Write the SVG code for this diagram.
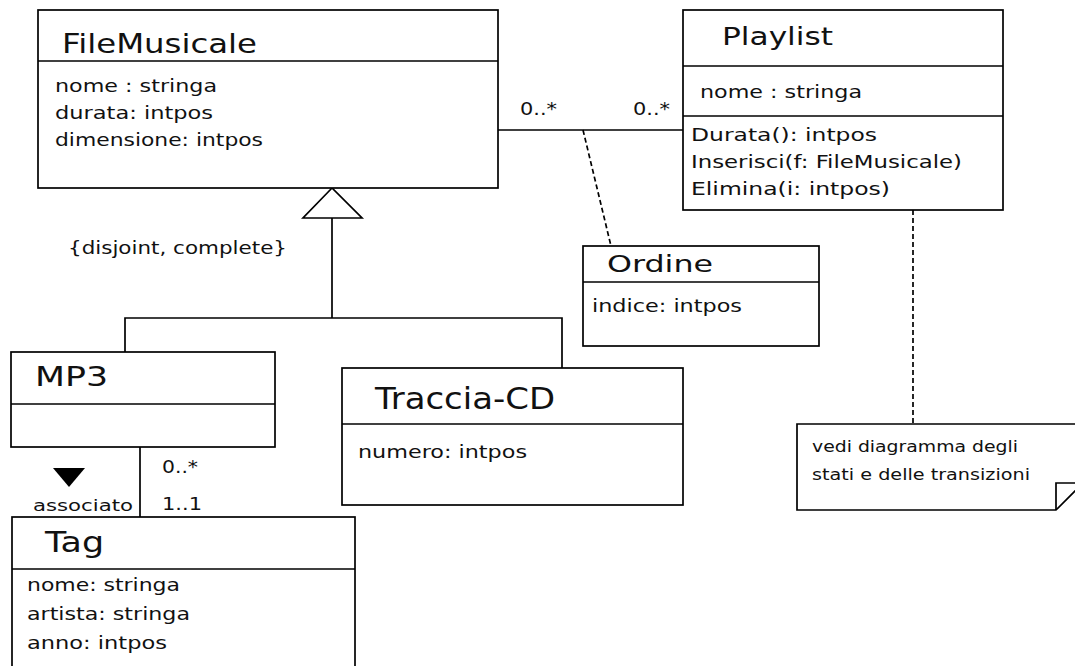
<svg xmlns="http://www.w3.org/2000/svg" width="1075" height="666" viewBox="0 0 1075 666">
  <style>
    .box { fill: #fff; stroke: #000; stroke-width: 1.7; }
    .sep { stroke: #000; stroke-width: 1.7; }
    .line { fill: none; stroke: #000; stroke-width: 1.7; }
    .dash { fill: none; stroke: #000; stroke-width: 1.7; stroke-dasharray: 5 3; }
    text { font-family: "DejaVu Sans", "Liberation Sans", sans-serif; fill: #111; }
    .title { font-size: 25px; }
    .attr { font-size: 17px; }
    .small { font-size: 15px; }
  </style>

  <!-- connectors -->
  <g id="connectors">
    <!-- association FileMusicale - Playlist -->
    <line class="line" x1="498" y1="130" x2="683" y2="130"/>
    <text class="attr" x="520" y="115" textLength="37" lengthAdjust="spacingAndGlyphs">0..*</text>
    <text class="attr" x="633" y="115" textLength="37" lengthAdjust="spacingAndGlyphs">0..*</text>
    <!-- association class link -->
    <line class="dash" x1="583" y1="130" x2="611" y2="246"/>
    <!-- generalization -->
    <polygon class="box" points="332,188 303,218 362,218"/>
    <polyline class="line" points="332,218 332,318"/>
    <polyline class="line" points="125,352 125,318 562,318 562,368"/>
    <text class="attr" x="68" y="254" textLength="219" lengthAdjust="spacingAndGlyphs">{disjoint, complete}</text>
    <!-- MP3 - Tag association -->
    <line class="line" x1="140" y1="447" x2="140" y2="517"/>
    <polygon points="53,468 85,468 69,487" fill="#000"/>
    <text class="small" x="33" y="511" textLength="100" lengthAdjust="spacingAndGlyphs">associato</text>
    <text class="attr" x="162" y="473" textLength="36" lengthAdjust="spacingAndGlyphs">0..*</text>
    <text class="attr" x="162" y="510" textLength="40" lengthAdjust="spacingAndGlyphs">1..1</text>
    <!-- note anchor -->
    <line class="dash" x1="913" y1="210" x2="913" y2="424"/>
  </g>

  <g id="FileMusicale">
    <rect class="box" x="38" y="10" width="460" height="178"/>
    <line class="sep" x1="38" y1="61" x2="498" y2="61"/>
    <text class="title" x="62" y="53" style="font-size:27px" textLength="195" lengthAdjust="spacingAndGlyphs">FileMusicale</text>
    <text class="attr" x="55" y="92" textLength="162" lengthAdjust="spacingAndGlyphs">nome : stringa</text>
    <text class="attr" x="55" y="119" textLength="158" lengthAdjust="spacingAndGlyphs">durata: intpos</text>
    <text class="attr" x="55" y="146" textLength="208" lengthAdjust="spacingAndGlyphs">dimensione: intpos</text>
  </g>

  <g id="Playlist">
    <rect class="box" x="683" y="10" width="320" height="200"/>
    <line class="sep" x1="683" y1="66" x2="1003" y2="66"/>
    <line class="sep" x1="683" y1="116" x2="1003" y2="116"/>
    <text class="title" x="722" y="45" style="font-size:24px" textLength="111" lengthAdjust="spacingAndGlyphs">Playlist</text>
    <text class="attr" x="700" y="98" textLength="162" lengthAdjust="spacingAndGlyphs">nome : stringa</text>
    <text class="attr" x="691" y="141" textLength="186" lengthAdjust="spacingAndGlyphs">Durata(): intpos</text>
    <text class="attr" x="691" y="168" textLength="271" lengthAdjust="spacingAndGlyphs">Inserisci(f: FileMusicale)</text>
    <text class="attr" x="691" y="195" textLength="199" lengthAdjust="spacingAndGlyphs">Elimina(i: intpos)</text>
  </g>

  <g id="Ordine">
    <rect class="box" x="583" y="246" width="236" height="100"/>
    <line class="sep" x1="583" y1="282" x2="819" y2="282"/>
    <text class="title" x="607" y="272" style="font-size:23px" textLength="106" lengthAdjust="spacingAndGlyphs">Ordine</text>
    <text class="attr" x="592" y="312" textLength="150" lengthAdjust="spacingAndGlyphs">indice: intpos</text>
  </g>

  <g id="MP3">
    <rect class="box" x="11" y="352" width="264" height="95"/>
    <line class="sep" x1="11" y1="404" x2="275" y2="404"/>
    <text class="title" x="35" y="386" style="font-size:26px" textLength="73" lengthAdjust="spacingAndGlyphs">MP3</text>
  </g>

  <g id="TracciaCD">
    <rect class="box" x="342" y="368" width="341" height="137"/>
    <line class="sep" x1="342" y1="424" x2="683" y2="424"/>
    <text class="title" x="375" y="409" style="font-size:30px" textLength="180" lengthAdjust="spacingAndGlyphs">Traccia-CD</text>
    <text class="attr" x="358" y="458" textLength="169" lengthAdjust="spacingAndGlyphs">numero: intpos</text>
  </g>

  <g id="Tag">
    <rect class="box" x="12" y="517" width="343" height="170"/>
    <line class="sep" x1="12" y1="569" x2="355" y2="569"/>
    <text class="title" x="45" y="552" style="font-size:29px" textLength="59" lengthAdjust="spacingAndGlyphs">Tag</text>
    <text class="attr" x="27" y="591" textLength="153" lengthAdjust="spacingAndGlyphs">nome: stringa</text>
    <text class="attr" x="27" y="620" textLength="163" lengthAdjust="spacingAndGlyphs">artista: stringa</text>
    <text class="attr" x="27" y="649" textLength="140" lengthAdjust="spacingAndGlyphs">anno: intpos</text>
  </g>

  <g id="note">
    <path class="box" d="M797,424 H1083 V483 L1056,510 H797 Z"/>
    <path class="line" d="M1056,510 V483 H1083"/>
    <text class="small" x="812" y="452" textLength="206" lengthAdjust="spacingAndGlyphs">vedi diagramma degli</text>
    <text class="small" x="812" y="480" textLength="218" lengthAdjust="spacingAndGlyphs">stati e delle transizioni</text>
  </g>
</svg>
